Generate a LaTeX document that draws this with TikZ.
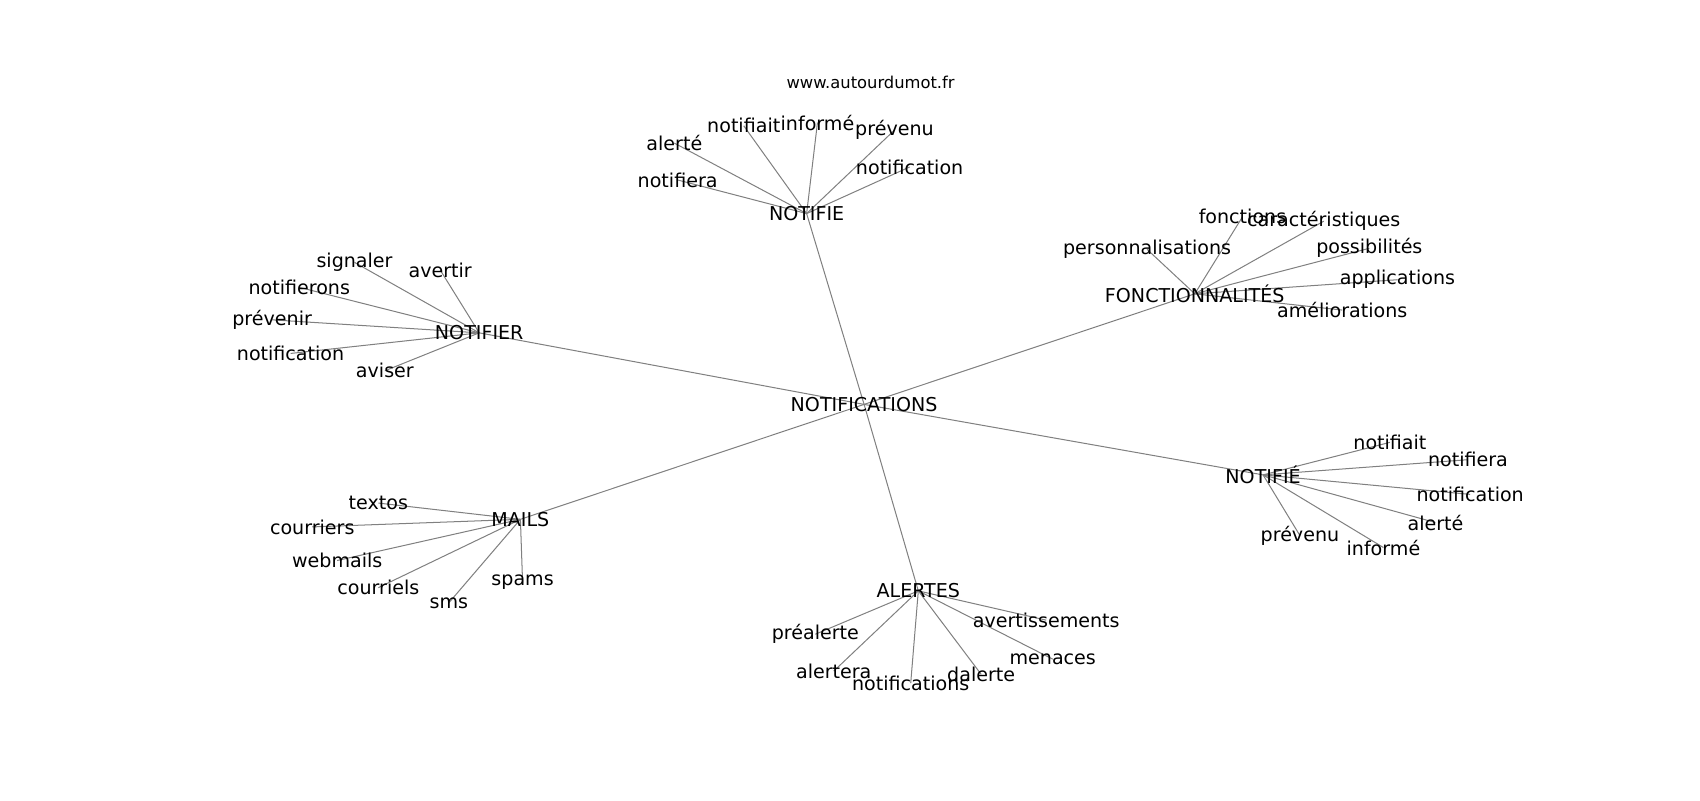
\documentclass[tikz,border=0pt]{standalone}
\usepackage{fontspec}
\setmainfont{DejaVu Sans}
\usetikzlibrary{backgrounds}

\begin{document}
\begin{tikzpicture}[x=0.75pt,y=-0.75pt,
  word/.style={inner sep=0pt,font=\fontsize{13.2}{15}\selectfont},
  link/.style={draw=gray,line width=0.7pt}]
  \useasboundingbox (0,0) rectangle (1568,738);
  \node[inner sep=0pt,font=\fontsize{11.3}{13}\selectfont] (site) at (803,76) {www.autourdumot.fr};
  % centre and the six groups
  \node[word] (hub) at (797,373) {NOTIFICATIONS};
  \node[word] (nfe) at (744,197) {NOTIFIE};
  \node[word] (fon) at (1102,271) {FONCTIONNALITÉS};
  \node[word] (nfr) at (442,307) {NOTIFIER};
  \node[word] (nfa) at (1165,438) {NOTIFIÉ};
  \node[word] (mai) at (480,479) {MAILS};
  \node[word] (ale) at (847,545) {ALERTES};
  % NOTIFIE
  \node[word] (nfe-1) at (625,166) {notifiera};
  \node[word] (nfe-2) at (622,132) {alerté};
  \node[word] (nfe-3) at (686,116) {notifiait};
  \node[word] (nfe-4) at (754,113) {informé};
  \node[word] (nfe-5) at (825,120) {prévenu};
  \node[word] (nfe-6) at (839,154) {notification};
  % FONCTIONNALITES
  \node[word] (fon-1) at (1146,200) {fonctions};
  \node[word] (fon-2) at (1221,204) {caractéristiques};
  \node[word] (fon-3) at (1058,230) {personnalisations};
  \node[word] (fon-4) at (1263,229) {possibilités};
  \node[word] (fon-5) at (1289,258) {applications};
  \node[word] (fon-6) at (1238,286) {améliorations};
  % NOTIFIER
  \node[word] (nfr-1) at (327,242) {signaler};
  \node[word] (nfr-2) at (406,249) {avertir};
  \node[word] (nfr-3) at (276,265) {notifierons};
  \node[word] (nfr-4) at (251,295) {prévenir};
  \node[word] (nfr-5) at (268,326) {notification};
  \node[word] (nfr-6) at (355,342) {aviser};
  % NOTIFIÉ
  \node[word] (nfa-1) at (1282,408) {notifiait};
  \node[word] (nfa-2) at (1354,424) {notifiera};
  \node[word] (nfa-3) at (1356,456) {notification};
  \node[word] (nfa-4) at (1324,482) {alerté};
  \node[word] (nfa-5) at (1199,494) {prévenu};
  \node[word] (nfa-6) at (1276,505) {informé};
  % MAILS
  \node[word] (mai-1) at (349,464) {textos};
  \node[word] (mai-2) at (288,486) {courriers};
  \node[word] (mai-3) at (311,517) {webmails};
  \node[word] (mai-4) at (349,542) {courriels};
  \node[word] (mai-5) at (414,556) {sms};
  \node[word] (mai-6) at (482,537) {spams};
  % ALERTES
  \node[word] (ale-1) at (752,585) {préalerte};
  \node[word] (ale-2) at (769,619) {alertera};
  \node[word] (ale-3) at (840,630) {notifications};
  \node[word] (ale-4) at (905,622) {dalerte};
  \node[word] (ale-5) at (971,608) {menaces};
  \node[word] (ale-6) at (965,572) {avertissements};
\begin{scope}[on background layer]
  \path[link] (hub.center) edge (nfe.center) edge (fon.center) edge (nfr.center)
    edge (nfa.center) edge (mai.center) edge (ale.center);
  \path[link] (nfe.center) edge (nfe-1.center) edge (nfe-2.center) edge (nfe-3.center)
    edge (nfe-4.center) edge (nfe-5.center) edge (nfe-6.center);
  \path[link] (fon.center) edge (fon-1.center) edge (fon-2.center) edge (fon-3.center)
    edge (fon-4.center) edge (fon-5.center) edge (fon-6.center);
  \path[link] (nfr.center) edge (nfr-1.center) edge (nfr-2.center) edge (nfr-3.center)
    edge (nfr-4.center) edge (nfr-5.center) edge (nfr-6.center);
  \path[link] (nfa.center) edge (nfa-1.center) edge (nfa-2.center) edge (nfa-3.center)
    edge (nfa-4.center) edge (nfa-5.center) edge (nfa-6.center);
  \path[link] (mai.center) edge (mai-1.center) edge (mai-2.center) edge (mai-3.center)
    edge (mai-4.center) edge (mai-5.center) edge (mai-6.center);
  \path[link] (ale.center) edge (ale-1.center) edge (ale-2.center) edge (ale-3.center)
    edge (ale-4.center) edge (ale-5.center) edge (ale-6.center);
\end{scope}
\end{tikzpicture}
\end{document}
